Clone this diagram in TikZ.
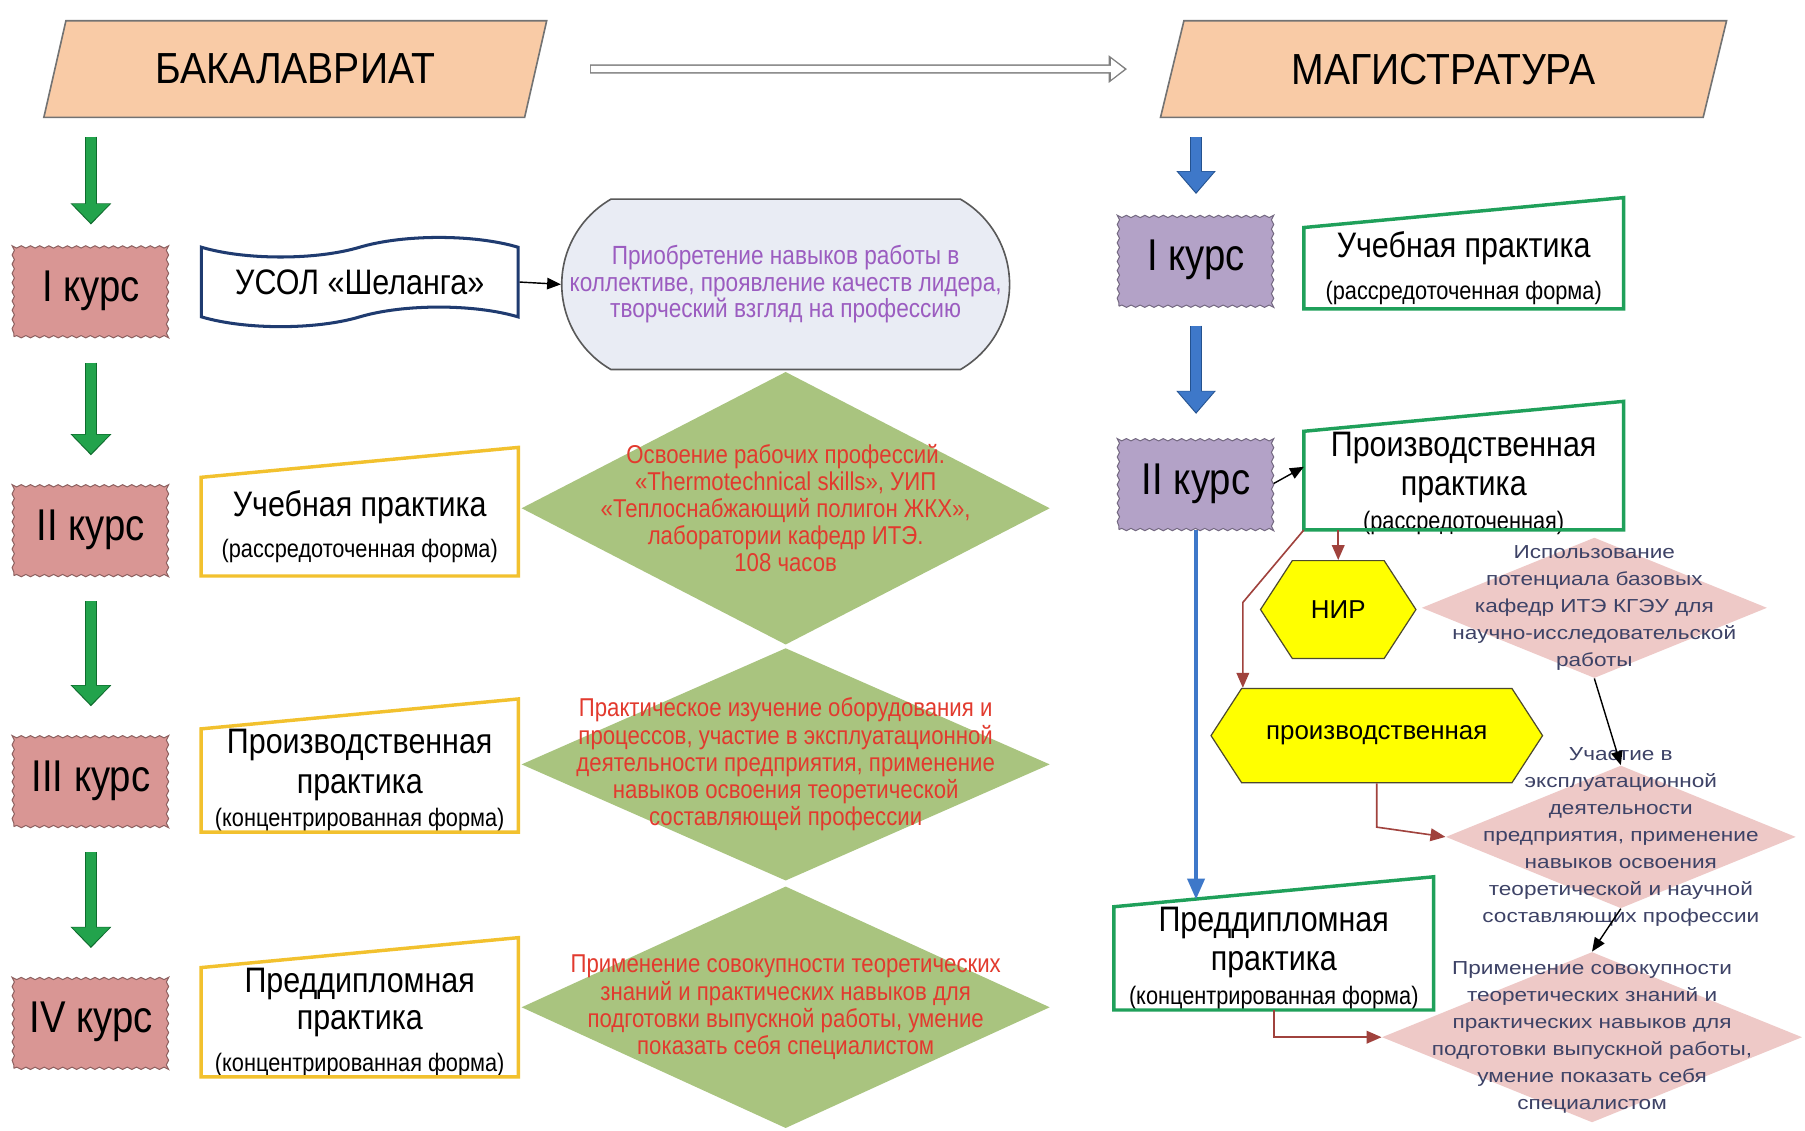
\documentclass[tikz,border=0pt]{standalone}
\usepackage{fontspec}
\setmainfont{Liberation Sans}
\newfontfamily\headfont[FakeStretch=0.9]{Liberation Sans}
\newfontfamily\narrowfont[FakeStretch=0.86]{Liberation Sans}
\newfontfamily\widefont[FakeStretch=1.2]{Liberation Sans}
\usetikzlibrary{shapes.geometric,shapes.symbols,shapes.misc,decorations.pathmorphing,arrows.meta}

\definecolor{headfill}{HTML}{F9CBA6}
\definecolor{kursred}{HTML}{D99694}
\definecolor{kursviolet}{HTML}{B3A2C7}
\definecolor{goldline}{HTML}{F2C12E}
\definecolor{greenline}{HTML}{1FA05A}
\definecolor{tapeblue}{HTML}{1F3B70}
\definecolor{termfill}{HTML}{E9ECF4}
\definecolor{purpletext}{HTML}{9B5CC0}
\definecolor{olivefill}{HTML}{A9C47F}
\definecolor{redtext}{HTML}{E23A2E}
\definecolor{pinkfill}{HTML}{EEC9C7}
\definecolor{slatetext}{HTML}{3D4266}
\definecolor{hexyellow}{HTML}{FFFF00}
\definecolor{brownline}{HTML}{A0423D}
\definecolor{arrgreen}{HTML}{22A34C}
\definecolor{arrgreendark}{HTML}{0F6B2E}
\definecolor{arrblue}{HTML}{3E78C9}
\definecolor{arrbluedark}{HTML}{24528F}

\newcommand{\formnote}[1]{{\fontsize{12.5}{14}\selectfont #1}}

\begin{document}
\begin{tikzpicture}[x=0.2mm, y=-0.2mm,
    header/.style={trapezium, trapezium left angle=66, trapezium right angle=114, trapezium stretches=true,
        draw=black!55, line width=0.8pt, fill=headfill, minimum height=16.8mm, inner sep=0pt,
        font=\headfont\fontsize{21.5}{25}\selectfont},
    kurs/.style={draw=#1!65!black, fill=#1, line width=0.5pt, decorate,
        decoration={snake, amplitude=0.2mm, segment length=1.6mm},
        minimum width=26.8mm, minimum height=16mm, inner sep=0pt, font=\narrowfont\fontsize{22}{26}\selectfont},
    pract/.style={minimum width=55mm, minimum height=17mm, inner sep=0pt, align=center,
        font=\narrowfont\fontsize{17.5}{19.5}\selectfont},
    tapebox/.style={tape, tape bend top=in and out, tape bend bottom=in and out, tape bend height=3.4mm,
        draw=tapeblue, line width=1.5pt, fill=white, minimum width=55mm, minimum height=15.5mm, inner sep=0pt,
        font=\narrowfont\fontsize{17.5}{19.5}\selectfont},
    term/.style={rounded rectangle, rounded rectangle arc length=120, draw=black!65, line width=0.8pt,
        fill=termfill, minimum width=77.8mm, minimum height=29.6mm, inner sep=0pt},
    gdiam/.style={diamond, fill=olivefill, inner sep=0pt, minimum width=91.8mm},
    pdiam/.style={diamond, fill=pinkfill, inner sep=0pt},
    hexa/.style={signal, signal to=west and east, signal pointer angle=114, draw=black!60!olive,
        line width=0.6pt, fill=hexyellow, inner sep=0pt, font=\fontsize{12.8}{15}\selectfont},
    termtext/.style={align=center, text=purpletext, font=\narrowfont\fontsize{13}{13.1}\selectfont},
    gtext/.style={align=center, text=redtext, font=\narrowfont\fontsize{12.75}{13.4}\selectfont},
    ptext/.style={align=center, text=slatetext, font=\widefont\fontsize{9.3}{13.4}\selectfont},
    garrow/.style={draw=arrgreen, line width=1.85mm, -{Triangle[width=6.3mm, length=3.3mm, sep=0.3mm]},
        preaction={draw=arrgreendark, line width=2.15mm, -{Triangle[width=6.9mm, length=3.7mm]}},
        shorten <=4.4mm, shorten >=4.8mm},
    barrow/.style={draw=arrblue, line width=1.85mm, -{Triangle[width=6mm, length=3.6mm, sep=0.3mm]},
        preaction={draw=arrbluedark, line width=2.15mm, -{Triangle[width=6.6mm, length=4mm]}},
        shorten <=3.3mm, shorten >=3.4mm},
    harrow/.style={draw=white, line width=1.1mm, -{Triangle[width=3.4mm, length=2.3mm, sep=0.45mm]},
        preaction={draw=black!50, line width=1.6mm, -{Triangle[width=4.6mm, length=3.2mm]}, shorten <=9.3mm},
        shorten <=9.45mm, shorten >=7.7mm},
    blk/.style={draw=black, line width=0.7pt, -{Triangle[width=2mm, length=2.4mm]}},
    brn/.style={draw=brownline, line width=0.8pt, -{Triangle[width=2.2mm, length=2.6mm]}},
    bline/.style={draw=arrblue, line width=1.6pt, -{Triangle[width=3mm, length=3.6mm]}},
]
\path[use as bounding box, fill=white] (0,0) rectangle (1568,982);

% headers
\node[header, minimum width=87.4mm] (hb) at (256.5,60) {БАКАЛАВРИАТ};
\node[header, minimum width=98.4mm] (hm) at (1254,60) {МАГИСТРАТУРА};
\draw[harrow] (hb) -- (hm);

% bachelor
\node[kurs=kursred] (k1) at (79,252.5) {I курс};
\node[kurs=kursred] (k2) at (79,460) {II курс};
\node[kurs=kursred] (k3) at (79,678) {III курс};
\node[kurs=kursred] (k4) at (79,888) {IV курс};

\node[tapebox] (usol) at (312.5,245) {УСОЛ «Шеланга»};
\node[pract] (lp2) at (312.5,457.5) {Учебная практика\\[1pt]\formnote{(рассредоточенная форма)}};
\node[pract] (lp3) at (312.5,678) {Производственная\\практика\\[-3pt]\formnote{(концентрированная форма)}};
\node[pract] (lp4) at (312.5,888) {Преддипломная\\[-1pt]практика\\[1pt]\formnote{(концентрированная форма)}};

\node[term] (goal) at (682.5,247) {};
\node[termtext] (goaltext) at (goal) {Приобретение навыков работы в\\коллективе, проявление качеств лидера,\\творческий взгляд на профессию};

\node[gdiam, minimum height=47.4mm, label={[gtext]center:{Освоение рабочих профессий.\\«Thermotechnical skills», УИП\\«Теплоснабжающий полигон ЖКХ»,\\лаборатории кафедр ИТЭ.\\108 часов}}] (gd1) at (682.5,441.5) {};
\node[gdiam, minimum height=40.4mm, label={[gtext]center:{Практическое изучение оборудования и\\процессов, участие в эксплуатационной\\деятельности предприятия, применение\\навыков освоения теоретической\\составляющей профессии}}] (gd2) at (682.5,664) {};
\node[gdiam, minimum height=42mm, label={[gtext]center:{Применение совокупности теоретических\\знаний и практических навыков для\\подготовки выпускной работы, умение\\показать себя специалистом}}] (gd3) at (682.5,875) {};

\draw[garrow, shorten <=3.2mm, shorten >=3.4mm] (k1 |- hb.south) -- (k1.north);
\foreach \a/\b in {k1/k2, k2/k3, k3/k4}
  \draw[garrow] (\a) -- (\b);
\draw[blk] (usol.east) -- (goal.west);

% master
\node[kurs=kursviolet] (km1) at (1039,226) {I курс};
\node[kurs=kursviolet] (km2) at (1039,420) {II курс};

\node[pract, minimum width=55.4mm, minimum height=14mm] (mp1) at (1271.5,233) {Учебная практика\\[1pt]\formnote{(рассредоточенная форма)}};
\node[pract, minimum width=55.4mm, text depth=-0.8mm] (mp2) at (1271.5,417.5) {Производственная\\практика\\[-3pt]\formnote{(рассредоточенная)}};
\node[pract, minimum width=55.4mm] (mp3) at (1106.5,832.5) {Преддипломная\\практика\\[-3pt]\formnote{(концентрированная форма)}};

\foreach \n/\c in {lp2/goldline, lp3/goldline, lp4/goldline, mp1/greenline, mp2/greenline, mp3/greenline}
  \draw[draw=\c, line width=1.7pt] (\n.north west) -- ([yshift=5.2mm]\n.north east) -- (\n.south east) -- (\n.south west) -- cycle;

\node[hexa, minimum width=27mm, minimum height=17mm] (nir) at (1162.5,529.5) {НИР};
\node[hexa, minimum width=57.6mm, minimum height=16.4mm] (prod) at (1196,639) {производственная};

\node[pdiam, minimum width=60mm, minimum height=24.4mm, label={[ptext]center:{Использование\\потенциала базовых\\кафедр ИТЭ КГЭУ для\\научно-исследовательской\\работы}}] (pd1) at (1385,528) {};
\node[pdiam, minimum width=60.8mm, minimum height=24.8mm, label={[ptext]center:{Участие в\\эксплуатационной\\деятельности\\предприятия, применение\\навыков освоения\\теоретической и научной\\составляющих профессии}}] (pd2) at (1408,727) {};
\node[pdiam, minimum width=73mm, minimum height=29.6mm, label={[ptext]center:{Применение совокупности\\теоретических знаний и\\практических навыков для\\подготовки выпускной работы,\\умение показать себя\\специалистом}}] (pd3) at (1383,901) {};

\draw[barrow] (km1 |- hm.south) -- (km1.north);
\draw[barrow, shorten >=4mm] (km1) -- (km2);
\draw[blk] (km2.east) -- ([yshift=2.4mm]mp2.west);
\draw[bline] (km2.south) -- ([yshift=1.3mm]km2.south |- mp3.north);

\draw[brn] (mp2.south -| nir.north) -- (nir.north);
\draw[brn] (mp2.south west) -- ++(-53,63) coordinate (bend) -- (bend |- prod.north);
\draw[brn] (prod.south) -- ++(0,38) -- (pd2.west);
\draw[brn] (mp3.south) |- (pd3.west);
\draw[blk] (pd1.south) -- (pd2.north);
\draw[blk] (pd2.south) -- (pd3.north);
\end{tikzpicture}
\end{document}
